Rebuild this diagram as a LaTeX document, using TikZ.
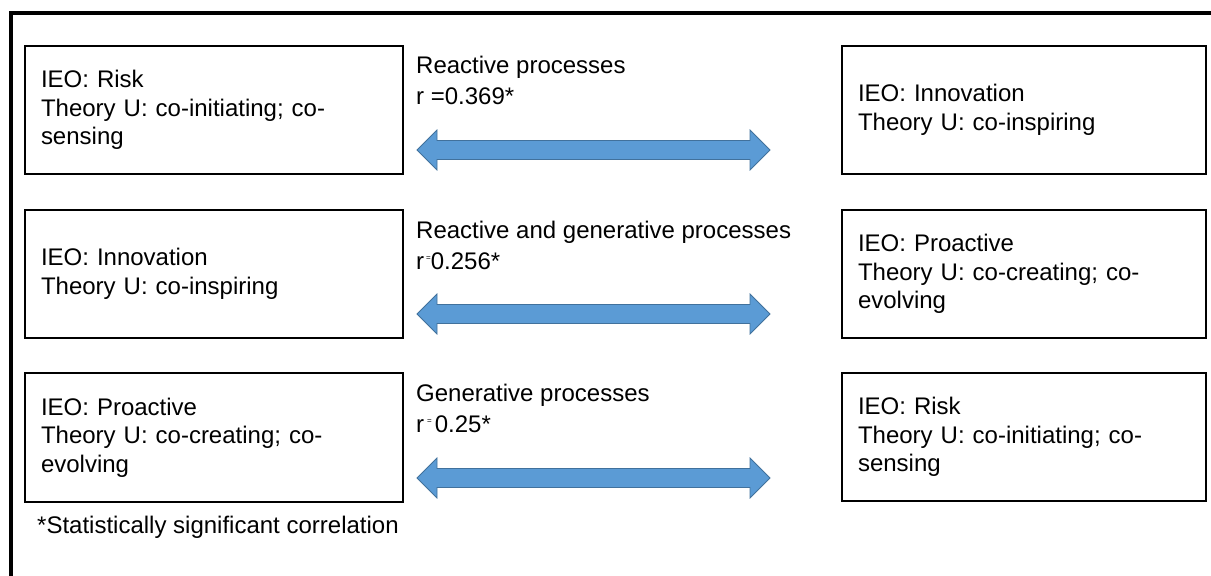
\documentclass[tikz,border=0pt]{standalone}
\usepackage{fontspec}
\setmainfont{Liberation Sans}
\usetikzlibrary{calc}

\definecolor{arrowfill}{HTML}{5B9BD5}
\definecolor{arrowline}{HTML}{41719C}

\tikzset{
  infobox/.style={draw=black, line width=2.2pt, rectangle, minimum height=128pt,
    inner xsep=16pt, inner ysep=0pt, align=left,
    font=\fontsize{24}{28.5}\selectfont},
  leftbox/.style={infobox, minimum width=378pt, text width=346pt},
  rightbox/.style={infobox, minimum width=364pt, text width=332pt},
  labeltext/.style={anchor=base west, inner sep=0pt,
    font=\fontsize{24}{28.5}\selectfont},
  blockarrow/.style={fill=arrowfill, draw=arrowline, line width=0.8pt, line join=miter},
  frameline/.style={line width=4pt, line join=miter}
}

% small raised equals sign used in the correlation labels
\newcommand\tinyeq{\raisebox{9pt}{\fontsize{8}{8}\selectfont =}}

% double-headed block arrow between two named coordinates
\newcommand\blockarrowpath[2]{%
  \draw[blockarrow] (#1) -- ++(20,-20) -- ++(0,10.5) -- ($(#2)+(-20,-9.5)$)
    -- ++(0,-10.5) -- (#2) -- ++(-20,20) -- ++(0,-10.5) -- ($(#1)+(20,9.5)$)
    -- ++(0,10.5) -- cycle;}

\begin{document}
\begin{tikzpicture}[x=1pt,y=-1pt]
\useasboundingbox (0,0) rectangle (1211,576);

% outer frame (top and left sides)
\draw[frameline] (11,576) -- (11,13) -- (1211,13);

% construct boxes
\node[leftbox] (l1) at (214,110) {IEO: Risk\\Theory U: co-initiating; co-\\sensing};
\node[rightbox] (r1) at (1024,110) {IEO: Innovation\\Theory U: co-inspiring};
\node[leftbox] (l2) at (214,274) {IEO: Innovation\\Theory U: co-inspiring};
\node[rightbox] (r2) at (1024,274) {IEO: Proactive\\Theory U: co-creating; co-\\evolving};
\node[leftbox, minimum height=129pt] (l3) at (214,437.5) {IEO: Proactive\\Theory U: co-creating; co-\\evolving};
\node[rightbox] (r3) at (1024,437) {IEO: Risk\\Theory U: co-initiating; co-\\sensing};

% process labels
\node[labeltext] (t1a) at (416,73) {Reactive processes};
\node[labeltext] (t1b) at (416,104) {r =0.369*};
\node[labeltext] (t2a) at (416,238) {Reactive and generative processes};
\node[labeltext] (t2b) at (416,269) {r\hspace{2pt}\tinyeq0.256*};
\node[labeltext] (t3a) at (416,401) {Generative processes};
\node[labeltext] (t3b) at (416,432) {r\hspace{3pt}\tinyeq\hspace{3pt}0.25*};

% correlation arrows
\coordinate (a1w) at (417,150); \coordinate (a1e) at (770,150);
\coordinate (a2w) at (417,314); \coordinate (a2e) at (770,314);
\coordinate (a3w) at (417,478); \coordinate (a3e) at (770,478);
\blockarrowpath{a1w}{a1e}
\blockarrowpath{a2w}{a2e}
\blockarrowpath{a3w}{a3e}

% footnote
\node[labeltext] (note) at (37,533) {*Statistically significant correlation};
\end{tikzpicture}
\end{document}
